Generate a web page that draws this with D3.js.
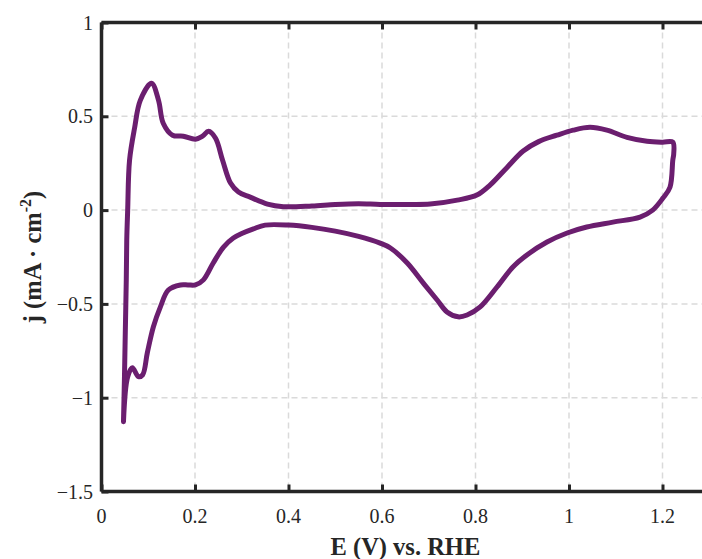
<!DOCTYPE html>
<html>
<head>
<meta charset="utf-8">
<script src="https://cdn.jsdelivr.net/npm/d3@7"></script>
<style>
  html, body { margin: 0; padding: 0; background: #ffffff; }
  svg { display: block; }
</style>
</head>
<body>
<svg id="chart" width="702" height="559"></svg>
<script>
// Cyclic voltammogram: potential E (V vs. RHE) and current density j (mA·cm⁻²)
// Anodic sweep from 0.047 V up to 1.225 V, then cathodic sweep back.
const potential = [
  0.047, 0.049, 0.051, 0.053, 0.054, 0.056, 0.060, 0.071, 0.083, 0.107,
  0.122, 0.132, 0.152, 0.175, 0.201, 0.216, 0.229, 0.244, 0.259, 0.276,
  0.293, 0.318, 0.355, 0.389, 0.45, 0.50, 0.55, 0.596, 0.65, 0.703,
  0.761, 0.803, 0.831, 0.868, 0.902, 0.935, 0.974, 1.009, 1.045, 1.081,
  1.124, 1.167, 1.200, 1.222, 1.224, 1.222, 1.216, 1.201, 1.179, 1.152,
  1.094, 1.038, 0.996, 0.953, 0.910, 0.880, 0.846, 0.810, 0.782, 0.763,
  0.739, 0.718, 0.688, 0.654, 0.618, 0.596, 0.55, 0.50, 0.45, 0.40,
  0.35, 0.325, 0.30, 0.282, 0.261, 0.239, 0.218, 0.201, 0.185, 0.169,
  0.143, 0.126, 0.111, 0.098, 0.088, 0.079, 0.066, 0.056, 0.047
];
const current = [
  -1.128, -0.904, -0.638, -0.372, -0.160, 0.000, 0.266, 0.441, 0.585, 0.676,
  0.585, 0.463, 0.399, 0.394, 0.378, 0.394, 0.420, 0.383, 0.266, 0.144,
  0.096, 0.069, 0.032, 0.018, 0.022, 0.030, 0.034, 0.030, 0.030, 0.032,
  0.053, 0.080, 0.133, 0.229, 0.315, 0.365, 0.399, 0.426, 0.441, 0.426,
  0.388, 0.367, 0.362, 0.362, 0.300, 0.266, 0.122, 0.064, 0.000, -0.037,
  -0.064, -0.090, -0.122, -0.170, -0.239, -0.303, -0.410, -0.516, -0.559, -0.569,
  -0.543, -0.479, -0.388, -0.282, -0.202, -0.176, -0.140, -0.112, -0.092, -0.080,
  -0.080, -0.100, -0.125, -0.149, -0.197, -0.282, -0.372, -0.399, -0.399, -0.399,
  -0.426, -0.516, -0.622, -0.761, -0.878, -0.888, -0.840, -0.888, -1.128
];

const xTicks = [0, 0.2, 0.4, 0.6, 0.8, 1, 1.2];
const xTickLabels = ["0", "0.2", "0.4", "0.6", "0.8", "1", "1.2"];
const yTicks = [-1.5, -1, -0.5, 0, 0.5, 1];
const yTickLabels = ["\u22121.5", "\u22121", "\u22120.5", "0", "0.5", "1"];

const svg = d3.select("#chart");
const x = d3.scaleLinear().domain([0, 1.3]).range([101.5, 709.25]);
const y = d3.scaleLinear().domain([-1.5, 1]).range([491.5, 22.5]);

const axisColor = "#262626";
const font = "'Liberation Serif', 'Times New Roman', serif";

// dashed grid
const grid = svg.append("g");
grid.selectAll("line.gx").data(xTicks.filter(d => d > 0)).join("line")
  .attr("x1", d => x(d)).attr("x2", d => x(d))
  .attr("y1", y(1)).attr("y2", y(-1.5))
  .attr("stroke", "#dadada").attr("stroke-width", 1.5)
  .attr("stroke-dasharray", "6,4");
grid.selectAll("line.gy").data(yTicks.filter(d => d > -1.5 && d < 1)).join("line")
  .attr("x1", x(0)).attr("x2", x(1.3))
  .attr("y1", d => y(d)).attr("y2", d => y(d))
  .attr("stroke", "#dadada").attr("stroke-width", 1.5)
  .attr("stroke-dasharray", "6,4");

// CV trace
const pts = potential.map((e, i) => [e, current[i]]);
const line = d3.line()
  .x(d => x(d[0])).y(d => y(d[1]))
  .curve(d3.curveCatmullRom.alpha(0.5));
svg.append("path")
  .attr("d", line(pts))
  .attr("fill", "none")
  .attr("stroke", "#6b1e6f")
  .attr("stroke-width", 5)
  .attr("stroke-linejoin", "round")
  .attr("stroke-linecap", "round");

// axes (box with inward ticks)
const axisB = d3.axisBottom(x).tickValues(xTicks).tickSize(-7).tickFormat("");
const axisT = d3.axisTop(x).tickValues(xTicks).tickSize(-7).tickFormat("");
const axisL = d3.axisLeft(y).tickValues(yTicks).tickSize(-7).tickFormat("");
const axisR = d3.axisRight(y).tickValues(yTicks).tickSize(-7).tickFormat("");

function styleAxis(g) {
  g.selectAll("path.domain").attr("stroke", axisColor).attr("stroke-width", 3.5);
  g.selectAll(".tick line").attr("stroke", axisColor).attr("stroke-width", 3);
}
const hDomain = g => g.selectAll("path.domain").attr("d", `M${x(0)},0H${x(1.3)}`);
const vDomain = g => g.selectAll("path.domain").attr("d", `M0,${y(-1.5)}V${y(1)}`);
svg.append("g").attr("transform", `translate(0,${y(-1.5)})`).call(axisB).call(hDomain).call(styleAxis);
svg.append("g").attr("transform", `translate(0,${y(1)})`).call(axisT).call(hDomain).call(styleAxis);
svg.append("g").attr("transform", `translate(${x(0)},0)`).call(axisL).call(vDomain).call(styleAxis);
svg.append("g").attr("transform", `translate(${x(1.3)},0)`).call(axisR).call(vDomain).call(styleAxis);

// tick labels
svg.append("g").selectAll("text").data(xTicks).join("text")
  .attr("x", d => x(d)).attr("y", 523)
  .attr("text-anchor", "middle")
  .attr("font-family", font).attr("font-size", 20).attr("fill", axisColor)
  .text((d, i) => xTickLabels[i]);
svg.append("g").selectAll("text").data(yTicks).join("text")
  .attr("x", 93).attr("y", d => y(d) + 7)
  .attr("text-anchor", "end")
  .attr("font-family", font).attr("font-size", 20).attr("fill", axisColor)
  .text((d, i) => yTickLabels[i]);

// axis titles
svg.append("text")
  .attr("x", (x(0) + x(1.3)) / 2).attr("y", 555)
  .attr("text-anchor", "middle")
  .attr("font-family", font).attr("font-size", 24.5).attr("font-weight", "bold").attr("fill", axisColor)
  .text("E (V) vs. RHE");

const yTitle = svg.append("text")
  .attr("transform", `translate(41,${(y(-1.5) + y(1)) / 2}) rotate(-90)`)
  .attr("text-anchor", "middle")
  .attr("font-family", font).attr("font-size", 24.5).attr("font-weight", "bold").attr("fill", axisColor);
yTitle.append("tspan").text("j (mA \u00b7 cm");
yTitle.append("tspan").attr("font-size", 16).attr("dy", -10).text("-2");
yTitle.append("tspan").attr("dy", 10).text(")");
</script>
</body>
</html>
